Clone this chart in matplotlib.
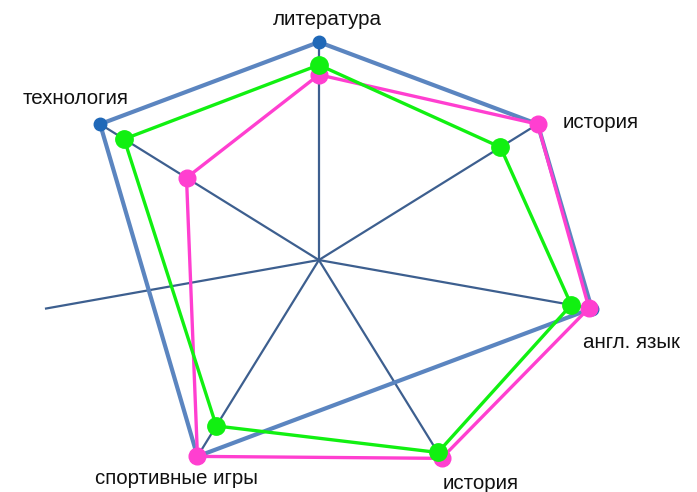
import numpy as np
import matplotlib.pyplot as plt

# categories clockwise from the top; the 6th spoke has no label and no data
categories = ['литература', 'история', 'англ. язык', 'история', 'спортивные игры', '', 'технология']
series_blue = [5.0, 5.0, 5.0, None, 5.0, None, 5.0]
series_pink = [4.70, 5.0, 4.98, 5.02, 5.0, None, 4.21]
series_green = [4.79, 4.66, 4.85, 4.96, 4.69, None, 4.78]

rmin, rmax = 3, 5
n = len(categories)
angles = np.arange(n) * 2 * np.pi / n

fig = plt.figure(figsize=(6.97, 4.92), dpi=100)
ax = fig.add_axes([0.056, 0.0285, 0.803, 0.886], projection='polar')
ax.set_aspect('auto')
ax.set_theta_zero_location('N')
ax.set_theta_direction(-1)
ax.set_ylim(rmin, rmax)
ax.grid(False)
ax.set_xticks([])
ax.set_yticks([])
ax.spines['polar'].set_visible(False)
ax.patch.set_visible(False)

# spokes
for a in angles:
    ax.plot([a, a], [rmin, rmax], color='#3d5f8f', lw=1.6, zorder=1, clip_on=False)


def draw(vals, line_col, mk_col, lw, ms, z):
    th = [a for a, v in zip(angles, vals) if v is not None]
    rr = [v for v in vals if v is not None]
    th.append(th[0])
    rr.append(rr[0])
    ax.plot(th, rr, color=line_col, lw=lw, zorder=z, clip_on=False)
    ax.plot(th[:-1], rr[:-1], 'o', color=mk_col, ms=ms, zorder=z + 0.5, clip_on=False)


draw(series_blue, '#5b85c0', '#1f68b8', 3.0, 9, 2)
draw(series_pink, '#ff3fd0', '#ff3fd0', 2.4, 12, 3)
draw(series_green, '#11f011', '#11f011', 2.4, 12.5, 4)

# label offsets from the spoke ends, in pixels
offsets = [(8, 23, 'center'), (25, 2, 'left'), (-9, -34, 'left'), (40, -27, 'center'),
           (-21, -22, 'center'), (0, 0, 'center'), (-25, 26, 'center')]
for a, lab, (dx, dy, ha) in zip(angles, categories, offsets):
    if lab:
        ax.annotate(lab, xy=(a, rmax), xytext=(dx * 0.72, dy * 0.72), textcoords='offset points',
                    ha=ha, va='center', fontsize=14.8, family='Liberation Sans',
                    color='#111111', annotation_clip=False)

fig.savefig('out.png', dpi=100)
